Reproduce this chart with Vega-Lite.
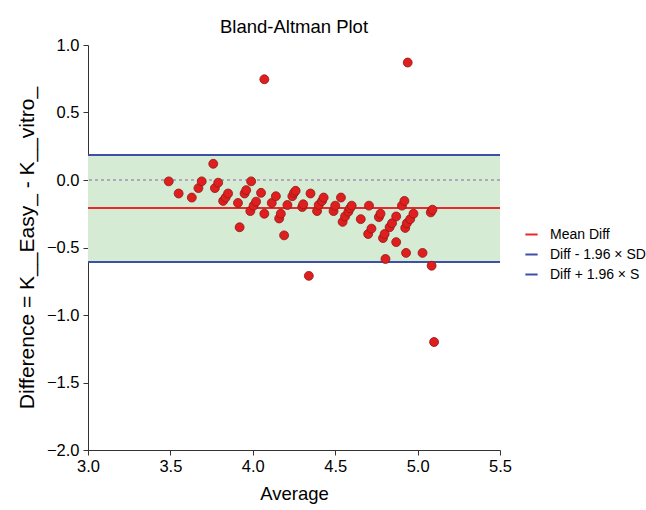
{
  "$schema": "https://vega.github.io/schema/vega-lite/v6.json",
  "width": 412,
  "height": 405,
  "autosize": "none",
  "padding": {"left": 88, "top": 45, "right": 146, "bottom": 60},
  "background": "white",
  "title": {"text": "Bland-Altman Plot", "fontSize": 18.5, "font": "Liberation Sans", "fontWeight": "normal", "offset": 1, "color": "black"},
  "config": {"view": {"stroke": null}, "font": "Liberation Sans"},
  "datasets": {
    "points": [
      {"avg": 3.49, "diff": -0.01}, {"avg": 3.55, "diff": -0.10}, {"avg": 3.63, "diff": -0.13},
      {"avg": 3.67, "diff": -0.06}, {"avg": 3.69, "diff": -0.01}, {"avg": 3.76, "diff": 0.12},
      {"avg": 3.77, "diff": -0.06}, {"avg": 3.79, "diff": -0.02}, {"avg": 3.82, "diff": -0.155},
      {"avg": 3.835, "diff": -0.13}, {"avg": 3.85, "diff": -0.10}, {"avg": 3.91, "diff": -0.17},
      {"avg": 3.92, "diff": -0.35}, {"avg": 3.95, "diff": -0.10}, {"avg": 3.96, "diff": -0.075},
      {"avg": 3.99, "diff": -0.01}, {"avg": 3.985, "diff": -0.23}, {"avg": 4.005, "diff": -0.19},
      {"avg": 4.02, "diff": -0.16}, {"avg": 4.05, "diff": -0.095}, {"avg": 4.07, "diff": -0.25},
      {"avg": 4.115, "diff": -0.17}, {"avg": 4.14, "diff": -0.12}, {"avg": 4.16, "diff": -0.285},
      {"avg": 4.17, "diff": -0.25}, {"avg": 4.19, "diff": -0.41}, {"avg": 4.21, "diff": -0.185},
      {"avg": 4.24, "diff": -0.12}, {"avg": 4.25, "diff": -0.095}, {"avg": 4.26, "diff": -0.08},
      {"avg": 4.30, "diff": -0.20}, {"avg": 4.306, "diff": -0.18}, {"avg": 4.35, "diff": -0.10},
      {"avg": 4.34, "diff": -0.71}, {"avg": 4.39, "diff": -0.23}, {"avg": 4.40, "diff": -0.185},
      {"avg": 4.42, "diff": -0.155}, {"avg": 4.43, "diff": -0.13}, {"avg": 4.49, "diff": -0.23},
      {"avg": 4.50, "diff": -0.19}, {"avg": 4.535, "diff": -0.13}, {"avg": 4.545, "diff": -0.31},
      {"avg": 4.56, "diff": -0.27}, {"avg": 4.58, "diff": -0.235}, {"avg": 4.59, "diff": -0.21},
      {"avg": 4.60, "diff": -0.19}, {"avg": 4.655, "diff": -0.29}, {"avg": 4.705, "diff": -0.19},
      {"avg": 4.70, "diff": -0.40}, {"avg": 4.72, "diff": -0.36}, {"avg": 4.765, "diff": -0.275},
      {"avg": 4.775, "diff": -0.25}, {"avg": 4.79, "diff": -0.43}, {"avg": 4.80, "diff": -0.40},
      {"avg": 4.805, "diff": -0.585}, {"avg": 4.83, "diff": -0.35}, {"avg": 4.845, "diff": -0.32},
      {"avg": 4.87, "diff": -0.27}, {"avg": 4.87, "diff": -0.46}, {"avg": 4.905, "diff": -0.19},
      {"avg": 4.92, "diff": -0.155}, {"avg": 4.93, "diff": -0.54}, {"avg": 4.925, "diff": -0.355},
      {"avg": 4.935, "diff": -0.32}, {"avg": 4.955, "diff": -0.29}, {"avg": 4.975, "diff": -0.25},
      {"avg": 5.03, "diff": -0.54}, {"avg": 5.08, "diff": -0.24}, {"avg": 5.09, "diff": -0.22},
      {"avg": 5.085, "diff": -0.635}, {"avg": 5.10, "diff": -1.2}, {"avg": 4.07, "diff": 0.746},
      {"avg": 4.94, "diff": 0.87}
    ],
    "band": [{"x0": 3.0, "x1": 5.5, "lo": -0.607, "hi": 0.185}],
    "zero": [{"y": 0}],
    "lines": [
      {"label": "Mean Diff", "y": -0.207},
      {"label": "Diff - 1.96 × SD", "y": -0.607},
      {"label": "Diff + 1.96 × S", "y": 0.185}
    ]
  },
  "layer": [
    {
      "data": {"name": "band"},
      "mark": {"type": "rect", "color": "#d6ebd3"},
      "encoding": {
        "x": {"field": "x0", "type": "quantitative"},
        "x2": {"field": "x1"},
        "y": {"field": "lo", "type": "quantitative"},
        "y2": {"field": "hi"}
      }
    },
    {
      "data": {"name": "zero"},
      "mark": {"type": "rule", "color": "#8e62a8", "strokeDash": [3, 3], "strokeWidth": 1},
      "encoding": {"y": {"field": "y", "type": "quantitative"}}
    },
    {
      "data": {"name": "lines"},
      "mark": {"type": "rule", "strokeWidth": 2},
      "encoding": {
        "y": {"field": "y", "type": "quantitative"},
        "color": {
          "field": "label", "type": "nominal",
          "scale": {"domain": ["Mean Diff", "Diff - 1.96 × SD", "Diff + 1.96 × S"], "range": ["#e8282b", "#3e4fa6", "#3e4fa6"]},
          "legend": {
            "title": null, "orient": "none", "legendX": 436, "legendY": 182,
            "symbolType": "stroke", "symbolSize": 150, "symbolStrokeWidth": 2,
            "labelFontSize": 14, "labelColor": "black", "labelFont": "Liberation Sans",
            "rowPadding": 5, "labelOffset": 11
          }
        }
      }
    },
    {
      "data": {"name": "points"},
      "mark": {"type": "point", "shape": "circle", "filled": true, "fill": "#e01e1e", "stroke": "#8b1a1a", "strokeWidth": 0.8, "opacity": 1, "size": 80},
      "encoding": {
        "x": {
          "field": "avg", "type": "quantitative",
          "scale": {"domain": [3, 5.5], "nice": false, "zero": false},
          "axis": {"title": "Average", "values": [3, 3.5, 4, 4.5, 5, 5.5], "format": ".1f", "grid": false, "labelFlush": false,
            "domainColor": "#333", "tickColor": "#333", "tickSize": 5, "labelFontSize": 16.5, "labelColor": "black",
            "titleFontSize": 18.5, "titleFontWeight": "normal", "titleColor": "black", "titlePadding": 10, "labelPadding": 3}
        },
        "y": {
          "field": "diff", "type": "quantitative",
          "scale": {"domain": [-2, 1], "nice": false, "zero": false},
          "axis": {"title": "Difference = K__Easy_ - K__vitro_", "values": [-2, -1.5, -1, -0.5, 0, 0.5, 1], "format": ".1f", "grid": false, "labelFlush": false,
            "domainColor": "#333", "tickColor": "#333", "tickSize": 5, "labelFontSize": 16.5, "labelColor": "black",
            "titleFontSize": 21, "titleFontWeight": "normal", "titleColor": "black", "titlePadding": 9, "labelPadding": 4}
        }
      }
    }
  ]
}
